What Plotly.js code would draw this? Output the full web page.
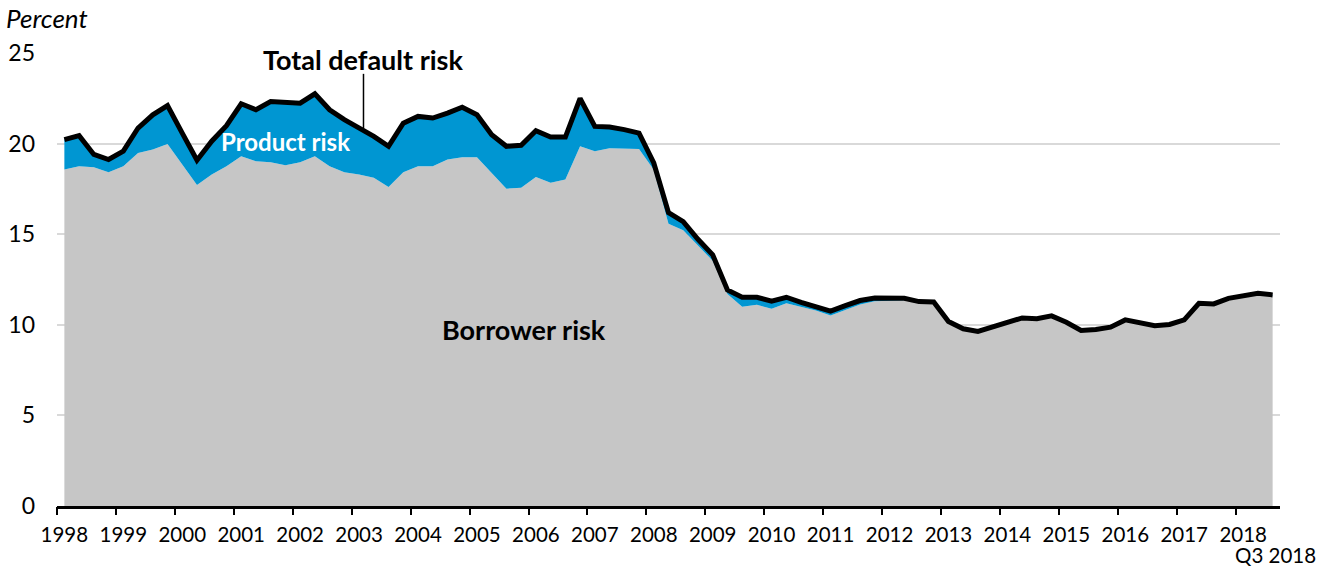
<!DOCTYPE html>
<html>
<head>
<meta charset="utf-8">
<script src="https://cdn.plot.ly/plotly-3.0.1.min.js"></script>
<style>
  html, body { margin: 0; padding: 0; background: #fff; }
  #chart { width: 1333px; height: 568px; }
</style>
</head>
<body>
<div id="chart"></div>
<script>
// Quarterly data, 1998 Q1 .. 2018 Q3
var years = ["1998","1999","2000","2001","2002","2003","2004","2005","2006","2007",
             "2008","2009","2010","2011","2012","2013","2014","2015","2016","2017","2018"];

var totalRisk = [
  20.22, 20.44, 19.40, 19.12, 19.58, 20.86, 21.59, 22.10,
  20.58, 19.08, 20.13, 20.99, 22.20, 21.87, 22.32, 22.29,
  22.23, 22.75, 21.87, 21.32, 20.86, 20.40, 19.85, 21.13,
  21.50, 21.41, 21.68, 22.01, 21.59, 20.49, 19.85, 19.91,
  20.71, 20.36, 20.36, 22.50, 20.95, 20.91, 20.77, 20.58,
  18.93, 16.19, 15.69, 14.72, 13.86, 11.92, 11.52, 11.52,
  11.30, 11.52, 11.24, 11.00, 10.75, 11.06, 11.34, 11.48,
  11.48, 11.46, 11.28, 11.26, 10.18, 9.78, 9.63, 9.87,
  10.09, 10.38, 10.33, 10.49, 10.14, 9.69, 9.74, 9.87,
  10.27, 10.09, 9.95, 10.02, 10.27, 11.19, 11.15, 11.46,
  11.61, 11.74, 11.65
];

var borrowerRisk = [
  18.57, 18.75, 18.70, 18.42, 18.75, 19.48, 19.67, 19.98,
  18.85, 17.71, 18.30, 18.75, 19.30, 19.03, 18.97, 18.81,
  18.97, 19.30, 18.75, 18.42, 18.30, 18.11, 17.60, 18.42,
  18.75, 18.75, 19.12, 19.25, 19.25, 18.40, 17.51, 17.56,
  18.15, 17.84, 18.02, 19.85, 19.58, 19.74, 19.74, 19.70,
  18.55, 15.58, 15.22, 14.36, 13.53, 11.70, 11.00, 11.10,
  10.88, 11.19, 11.00, 10.79, 10.51, 10.82, 11.12, 11.30,
  11.34, 11.36, 11.22, 11.22, 10.15, 9.75, 9.60, 9.84,
  10.06, 10.35, 10.30, 10.46, 10.11, 9.66, 9.71, 9.84,
  10.24, 10.06, 9.92, 9.99, 10.24, 11.16, 11.12, 11.43,
  11.58, 11.71, 11.62
];

var yTicks = [0, 5, 10, 15, 20, 25];

var qIndex = totalRisk.map(function (_, i) { return i; });
var yearLabelPos = years.map(function (_, k) { return 4 * k; });
var yearBoundaryPos = years.map(function (_, k) { return 4 * k - 0.5; });

var FONT = "Lato, 'Open Sans', sans-serif";
var GRAY = "rgb(198,198,198)";
var BLUE = "rgb(0,150,210)";

var traces = [
  {
    x: qIndex, y: borrowerRisk, type: "scatter", mode: "lines",
    line: { width: 0, color: GRAY }, fill: "tozeroy", fillcolor: GRAY,
    hoverinfo: "skip", showlegend: false
  },
  {
    x: qIndex, y: totalRisk, type: "scatter", mode: "lines",
    line: { width: 0, color: BLUE }, fill: "tonexty", fillcolor: BLUE,
    hoverinfo: "skip", showlegend: false
  },
  {
    x: qIndex, y: totalRisk, type: "scatter", mode: "lines",
    xaxis: "x2", yaxis: "y",
    line: { width: 5, color: "#000" },
    hoverinfo: "skip", showlegend: false
  }
];

var layout = {
  width: 1333, height: 568,
  margin: { l: 57, r: 53, t: 53, b: 62 },
  paper_bgcolor: "#fff", plot_bgcolor: "#fff",
  font: { family: FONT, size: 20, color: "#000" },
  showlegend: false,
  xaxis: {
    range: [-0.5, 82.5],
    tickmode: "array", tickvals: yearLabelPos, ticktext: years,
    ticks: "", showgrid: false, zeroline: false,
    showline: true, linecolor: "#000", linewidth: 2.5,
    tickfont: { family: FONT, size: 20.5, color: "#000" },
    ticklabelstandoff: 9,
    fixedrange: true
  },
  xaxis2: {
    range: [-0.5, 82.5], overlaying: "x",
    tickmode: "array", tickvals: yearBoundaryPos,
    ticktext: yearBoundaryPos.map(function () { return ""; }),
    showticklabels: false,
    ticks: "outside", ticklen: 8, tickwidth: 2, tickcolor: "#000",
    showgrid: false, zeroline: false, showline: false,
    fixedrange: true
  },
  yaxis: {
    range: [0, 25],
    tickmode: "array", tickvals: yTicks, ticktext: yTicks.map(String),
    ticks: "", showline: false, zeroline: false,
    showgrid: true, gridcolor: "rgb(217,217,217)", gridwidth: 2,
    tickfont: { family: FONT, size: 23, color: "#000" },
    ticklabelstandoff: 21,
    fixedrange: true
  },
  shapes: [
    {
      type: "line", xref: "x", yref: "y",
      x0: 20.3, x1: 20.3, y0: 23.85, y1: 20.85,
      line: { color: "#000", width: 1.5 }
    }
  ],
  annotations: [
    {
      text: "<i>Percent</i>", xref: "paper", yref: "paper",
      x: -0.043, y: 1.077, xanchor: "left", yanchor: "middle",
      showarrow: false, font: { family: FONT, size: 26, color: "#000" }
    },
    {
      text: "Q3 2018", xref: "paper", yref: "paper",
      x: 1.031, y: -0.109, xanchor: "right", yanchor: "middle",
      showarrow: false, font: { family: FONT, size: 20.5, color: "#000" }
    },
    {
      text: "<b>Total default risk</b>", xref: "x", yref: "y",
      x: 20.3, y: 24.62, xanchor: "center", yanchor: "middle",
      showarrow: false, font: { family: FONT, size: 27, color: "#000" }
    },
    {
      text: "<b>Product risk</b>", xref: "x", yref: "y",
      x: 15.0, y: 20.1, xanchor: "center", yanchor: "middle",
      showarrow: false, font: { family: FONT, size: 24, color: "#fff" }
    },
    {
      text: "<b>Borrower risk</b>", xref: "x", yref: "y",
      x: 31.2, y: 9.74, xanchor: "center", yanchor: "middle",
      showarrow: false, font: { family: FONT, size: 27, color: "#000" }
    }
  ]
};

Plotly.newPlot("chart", traces, layout, { displayModeBar: false, staticPlot: true });
</script>
</body>
</html>
